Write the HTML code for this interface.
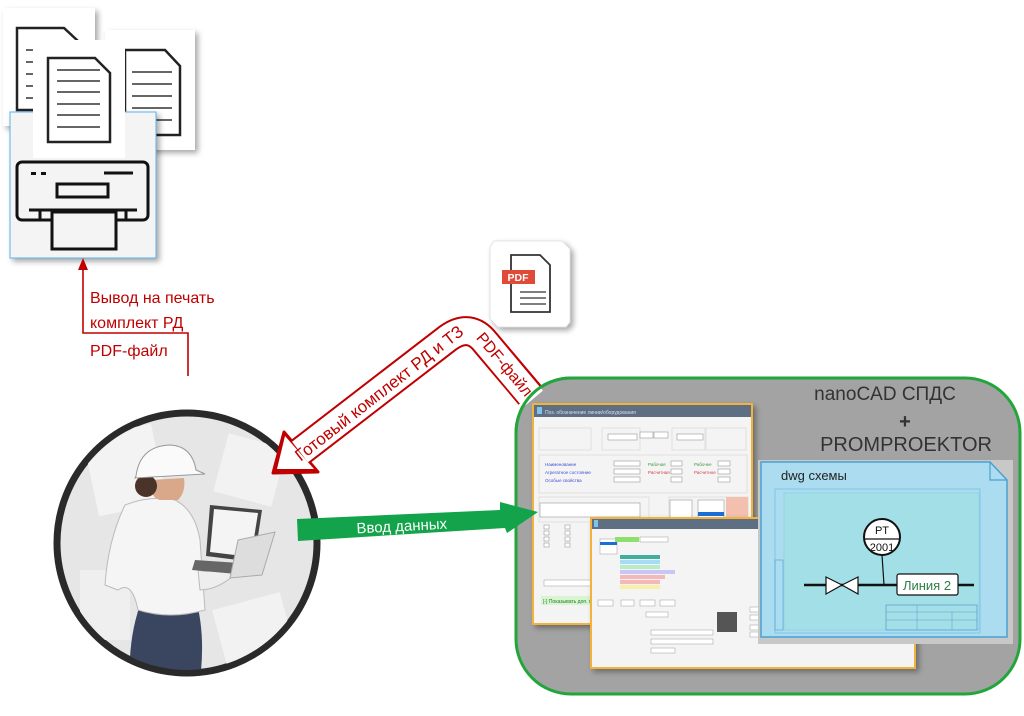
<!DOCTYPE html>
<html><head><meta charset="utf-8"><style>
html,body{margin:0;padding:0;background:#fff}
svg{display:block}
text{font-family:"Liberation Sans",Arial,sans-serif}
</style></head><body>
<svg width="1024" height="716" viewBox="0 0 1024 716" xmlns="http://www.w3.org/2000/svg">
<defs>
<filter id="sh" x="-20%" y="-20%" width="150%" height="150%"><feDropShadow dx="3" dy="3" stdDeviation="3" flood-color="#000" flood-opacity="0.35"/></filter>
<clipPath id="cc"><circle cx="187" cy="543" r="127"/></clipPath>
</defs>

<g filter="url(#sh)"><rect x="3" y="8" width="92" height="118" fill="#fff"/></g>
<g fill="none" stroke="#222" stroke-width="2.5">
<path d="M17 28 H64 L78 41 V110 H17 Z"/>
</g>
<g stroke="#333" stroke-width="1.6"><line x1="26" y1="50" x2="70" y2="50"/><line x1="26" y1="62" x2="70" y2="62"/><line x1="26" y1="74" x2="70" y2="74"/><line x1="26" y1="86" x2="70" y2="86"/><line x1="26" y1="98" x2="70" y2="98"/></g>
<g filter="url(#sh)"><rect x="105" y="30" width="90" height="120" fill="#fff"/></g>
<g fill="none" stroke="#222" stroke-width="2.5"><path d="M125 50 H165 L180 66 V135 H125 Z"/></g>
<g stroke="#333" stroke-width="1.6"><line x1="132" y1="72" x2="172" y2="72"/><line x1="132" y1="84" x2="172" y2="84"/><line x1="132" y1="96" x2="172" y2="96"/><line x1="132" y1="108" x2="172" y2="108"/><line x1="132" y1="120" x2="172" y2="120"/></g>
<g filter="url(#sh)"><rect x="10" y="112" width="146" height="146" fill="#f4f4f4" stroke="#5ab4f0" stroke-width="1"/></g>
<rect x="33" y="40" width="92" height="118" fill="#fff"/>
<g fill="none" stroke="#222" stroke-width="2.5"><path d="M48 58 H95 L110 73 V142 H48 Z"/></g>
<g stroke="#333" stroke-width="1.6"><line x1="57" y1="70" x2="100" y2="70"/><line x1="57" y1="81" x2="100" y2="81"/><line x1="57" y1="92" x2="100" y2="92"/><line x1="57" y1="104" x2="100" y2="104"/><line x1="57" y1="115" x2="100" y2="115"/><line x1="57" y1="127" x2="100" y2="127"/></g>
<g fill="none" stroke="#111" stroke-width="3">
<rect x="17" y="162" width="131" height="58" rx="5"/>
<rect x="57" y="184" width="51" height="13"/>
<line x1="29" y1="210" x2="137" y2="210"/>
<rect x="52" y="212" width="64" height="37" fill="#f4f4f4"/>
<line x1="40" y1="210" x2="40" y2="220"/><line x1="126" y1="210" x2="126" y2="220"/>
<line x1="104" y1="173" x2="133" y2="173"/>
</g>
<g fill="#111"><rect x="31" y="172" width="5" height="3"/><rect x="41" y="172" width="5" height="3"/></g>

<path d="M188 376 V333 H83 V268" fill="none" stroke="#c00000" stroke-width="1.6"/>
<polygon points="83,258 78,270 88,270" fill="#c00000"/>
<g fill="#c00000" font-size="16">
<text x="90" y="303">Вывод на печать</text>
<text x="90" y="328">комплект РД</text>
<text x="90" y="356">PDF-файл</text>
</g>

<circle cx="187" cy="543" r="130" fill="#e6e6e6" stroke="#2a2a2a" stroke-width="7"/>
<g clip-path="url(#cc)">
<rect x="90" y="430" width="70" height="80" fill="#f3f3f3" transform="rotate(-12 125 470)"/>
<rect x="220" y="440" width="60" height="60" fill="#f2f2f2" transform="rotate(15 250 470)"/>
<rect x="220" y="600" width="70" height="70" fill="#f2f2f2" transform="rotate(-15 255 635)"/>
<rect x="80" y="570" width="50" height="70" fill="#efefef"/>
<path d="M140 605 Q170 600 198 608 Q205 640 200 680 L130 680 Q128 640 140 605Z" fill="#3a4560"/>
<path d="M125 505 Q150 495 175 500 Q195 510 200 540 L205 610 Q170 620 138 610 Q132 580 118 590 L105 585 Q108 540 125 505Z" fill="#f5f5f5" stroke="#bbb" stroke-width="1"/>
<path d="M198 570 Q215 575 238 560 L242 568 Q220 590 200 590Z" fill="#eee" stroke="#bbb"/>
<circle cx="244" cy="562" r="6" fill="#d9a88a"/>
<polygon points="210,505 262,510 254,562 206,556" fill="#444"/>
<polygon points="214,509 258,513 251,557 210,552" fill="#f4f4f4"/>
<polygon points="195,560 254,564 248,575 192,570" fill="#666"/>
<polygon points="238,540 275,532 262,575 230,578" fill="#ddd" stroke="#aaa"/>
<path d="M150 480 Q150 498 160 500 L178 500 Q186 492 184 478 Z" fill="#d9a88a"/>
<circle cx="146" cy="486" r="11" fill="#4a3328"/>
<path d="M136 476 Q140 446 170 445 Q192 446 196 470 L205 474 L135 478Z" fill="#fafafa" stroke="#999" stroke-width="1"/>
</g>

<rect x="516" y="378" width="504" height="316" rx="55" fill="#a3a3a3" stroke="#22a63c" stroke-width="3"/>
<text x="885" y="400" font-size="19" fill="#333" text-anchor="middle">nanoCAD СПДС</text>
<text x="905" y="428" font-size="20" fill="#333" text-anchor="middle" font-weight="bold">+</text>
<text x="906" y="451" font-size="20" fill="#333" text-anchor="middle">PROMPROEKTOR</text>

<g filter="url(#sh)"><rect x="533" y="404" width="219" height="220" fill="#f4f4f4" stroke="#f2b33c" stroke-width="2"/></g>
<rect x="534" y="405" width="217" height="12" fill="#5e6f84"/>
<rect x="537" y="407" width="5" height="7" fill="#7ec3ef"/>
<text x="545" y="414" font-size="5" fill="#dde">Поз. обозначение линии/оборудования</text>
<g fill="none" stroke="#ddd" stroke-width="0.8">
<rect x="539" y="428" width="52" height="22"/><rect x="602" y="428" width="38" height="22"/><rect x="672" y="428" width="33" height="22"/><rect x="706" y="428" width="40" height="22"/>
<rect x="539" y="455" width="208" height="38"/><rect x="539" y="497" width="110" height="25"/><rect x="669" y="497" width="79" height="50"/>
</g>
<g fill="#fff" stroke="#999" stroke-width="0.6">
<rect x="608" y="434" width="29" height="6"/><rect x="640" y="432" width="13" height="6"/><rect x="654" y="432" width="14" height="6"/><rect x="677" y="434" width="26" height="6"/>
<rect x="614" y="461" width="26" height="5"/><rect x="614" y="469" width="26" height="5"/><rect x="614" y="477" width="26" height="5"/>
<rect x="671" y="461" width="11" height="5"/><rect x="671" y="469" width="11" height="5"/><rect x="671" y="477" width="11" height="5"/>
<rect x="718" y="461" width="12" height="5"/><rect x="718" y="469" width="12" height="5"/><rect x="718" y="477" width="12" height="5"/>
<rect x="540" y="503" width="100" height="14"/><rect x="670" y="500" width="22" height="38"/><rect x="698" y="500" width="26" height="38"/>
</g>
<rect x="698" y="512" width="26" height="4" fill="#1a6fd6"/>
<rect x="726" y="497" width="22" height="40" fill="#f3c0b0"/>
<g font-size="4.5" fill="#3b4fd6"><text x="545" y="466">Наименование</text><text x="545" y="474">Агрегатное состояние</text><text x="545" y="482">Особые свойства</text></g>
<g font-size="4.5" fill="#3a9e3a"><text x="648" y="466">Рабочая</text><text x="694" y="466">Рабочее</text></g>
<g font-size="4.5" fill="#d04040"><text x="648" y="474">Расчетная</text><text x="694" y="474">Расчетное</text></g>
<g fill="#fff" stroke="#888" stroke-width="0.5"><rect x="544" y="525" width="5" height="4"/><rect x="544" y="531" width="5" height="4"/><rect x="544" y="537" width="5" height="4"/><rect x="544" y="543" width="5" height="4"/><rect x="565" y="525" width="5" height="4"/><rect x="565" y="531" width="5" height="4"/><rect x="565" y="537" width="5" height="4"/><rect x="565" y="543" width="5" height="4"/></g>
<rect x="544" y="580" width="50" height="6" fill="#fff" stroke="#999" stroke-width="0.5"/>
<rect x="541" y="596" width="50" height="9" fill="#d6f5d0"/>
<text x="543" y="603" font-size="5" fill="#2a7a2a">[-] Показывать доп. пар</text>

<g filter="url(#sh)"><rect x="591" y="518" width="324" height="150" fill="#f4f4f4" stroke="#f2b33c" stroke-width="2"/></g>
<rect x="592" y="519" width="322" height="10" fill="#5e6f84"/>
<rect x="594" y="520" width="4" height="7" fill="#7ec3ef"/>
<g fill="#fff" stroke="#999" stroke-width="0.5"><rect x="600" y="539" width="17" height="15"/><rect x="640" y="537" width="28" height="5"/><rect x="598" y="600" width="15" height="6"/><rect x="621" y="600" width="13" height="6"/><rect x="640" y="600" width="15" height="6"/><rect x="660" y="600" width="15" height="6"/><rect x="646" y="612" width="22" height="5"/><rect x="651" y="630" width="62" height="5"/><rect x="651" y="639" width="62" height="5"/><rect x="651" y="648" width="24" height="5"/></g>
<rect x="600" y="542" width="17" height="3" fill="#1a6fd6"/>
<rect x="615" y="537" width="24" height="5" fill="#8de06c"/>
<g><rect x="620" y="555" width="40" height="4" fill="#3fb0a0"/><rect x="620" y="560" width="40" height="4" fill="#a8dcf5"/><rect x="620" y="565" width="40" height="4" fill="#b8ecc8"/><rect x="620" y="570" width="55" height="4" fill="#c9c6f5"/><rect x="620" y="575" width="45" height="4" fill="#f5b8b8"/><rect x="620" y="580" width="40" height="4" fill="#f5b8b8"/><rect x="620" y="585" width="40" height="4" fill="#f8f0a8"/></g>
<rect x="717" y="612" width="20" height="20" fill="#555"/>
<g fill="#fff" stroke="#999" stroke-width="0.5"><rect x="750" y="607" width="10" height="5"/><rect x="750" y="615" width="10" height="5"/><rect x="750" y="625" width="10" height="5"/><rect x="750" y="632" width="10" height="5"/></g>

<rect x="758" y="460" width="255" height="184" fill="#c8c8c8"/>
<path d="M761 462 H990 L1007 480 V637 H761 Z" fill="#acdcf0" stroke="#4aa0d0" stroke-width="1.5"/>
<path d="M990 462 V480 H1007" fill="none" stroke="#4aa0d0" stroke-width="1.2"/>
<text x="781" y="480" font-size="13" fill="#222">dwg схемы</text>
<rect x="775" y="489" width="205" height="144" fill="none" stroke="#7ec6e8" stroke-width="1"/>
<rect x="784" y="493" width="195" height="137" fill="#a3dfe6" stroke="#8cd0e4" stroke-width="0.8"/>
<rect x="775" y="560" width="8" height="70" fill="none" stroke="#4aa0d0" stroke-width="0.6"/>
<line x1="804" y1="585" x2="974" y2="585" stroke="#111" stroke-width="2.5"/>
<polygon points="826,577 842,585 826,594" fill="#fff" stroke="#111" stroke-width="1.2"/>
<polygon points="858,577 842,585 858,594" fill="#fff" stroke="#111" stroke-width="1.2"/>
<line x1="882" y1="555" x2="884" y2="585" stroke="#111" stroke-width="1.2"/>
<circle cx="882" cy="537" r="18" fill="#fff" stroke="#111" stroke-width="2"/>
<line x1="864" y1="539" x2="900" y2="539" stroke="#111" stroke-width="1.2"/>
<text x="882" y="534" font-size="11" text-anchor="middle" fill="#111">PT</text>
<text x="882" y="551" font-size="11" text-anchor="middle" fill="#111">2001</text>
<rect x="897" y="574" width="61" height="21" rx="2" fill="#fff" stroke="#111" stroke-width="1.2"/>
<text x="927" y="590" font-size="13" text-anchor="middle" fill="#2d7d46">Линия 2</text>
<rect x="886" y="605" width="91" height="25" fill="none" stroke="#4a8cd0" stroke-width="0.6"/>
<g stroke="#4a8cd0" stroke-width="0.4"><line x1="886" y1="612" x2="977" y2="612"/><line x1="886" y1="620" x2="977" y2="620"/><line x1="917" y1="605" x2="917" y2="630"/><line x1="952" y1="612" x2="952" y2="630"/></g>

<g filter="url(#sh)"><path d="M494 241 H562 L570 249 V322 L566 327 H498 L490 319 V247 Z" fill="#fff" stroke="#ddd" stroke-width="0.8"/></g>
<path d="M511 255 H540 L550 265 V312 H511 Z" fill="none" stroke="#333" stroke-width="1.8"/>
<rect x="502" y="270" width="33" height="14" fill="#e04a38"/>
<text x="518" y="281" font-size="10.5" fill="#fff" text-anchor="middle" font-weight="bold">PDF</text>
<g stroke="#333" stroke-width="1.3"><line x1="520" y1="292" x2="546" y2="292"/><line x1="520" y1="298" x2="546" y2="298"/><line x1="520" y1="304" x2="546" y2="304"/></g>

<g>
<path d="M530 395 L486 343 Q470 322 448 338 L300 452" fill="none" stroke="#c00000" stroke-width="30" stroke-linejoin="round"/>
<polygon points="273,473 284,432 318,472" fill="#c00000" stroke="#c00000" stroke-width="3" stroke-linejoin="round"/>
<path d="M533 399 L486 343 Q470 322 448 338 L300 452" fill="none" stroke="#fff" stroke-width="26" stroke-linejoin="round"/>
<polygon points="277,469 285,436 314,469" fill="#fff"/>
</g>
<path d="M516 433 A55 55 0 0 1 571 378" fill="none" stroke="#22a63c" stroke-width="3"/>
<text x="0" y="6" font-size="17" fill="#c00000" text-anchor="middle" transform="translate(379 393) rotate(-38)">Готовый комплект РД и ТЗ</text>
<text x="0" y="6" font-size="16" fill="#c00000" text-anchor="middle" transform="translate(505 364) rotate(50)">PDF-файл</text>

<polygon points="297,519 500,510 500,502 538,512 507,533 505,528 298,541" fill="#13a34a"/>
<text x="0" y="0" font-size="15" fill="#fff" text-anchor="middle" transform="translate(402 531) rotate(-3)">Ввод данных</text>
</svg>
</body></html>
